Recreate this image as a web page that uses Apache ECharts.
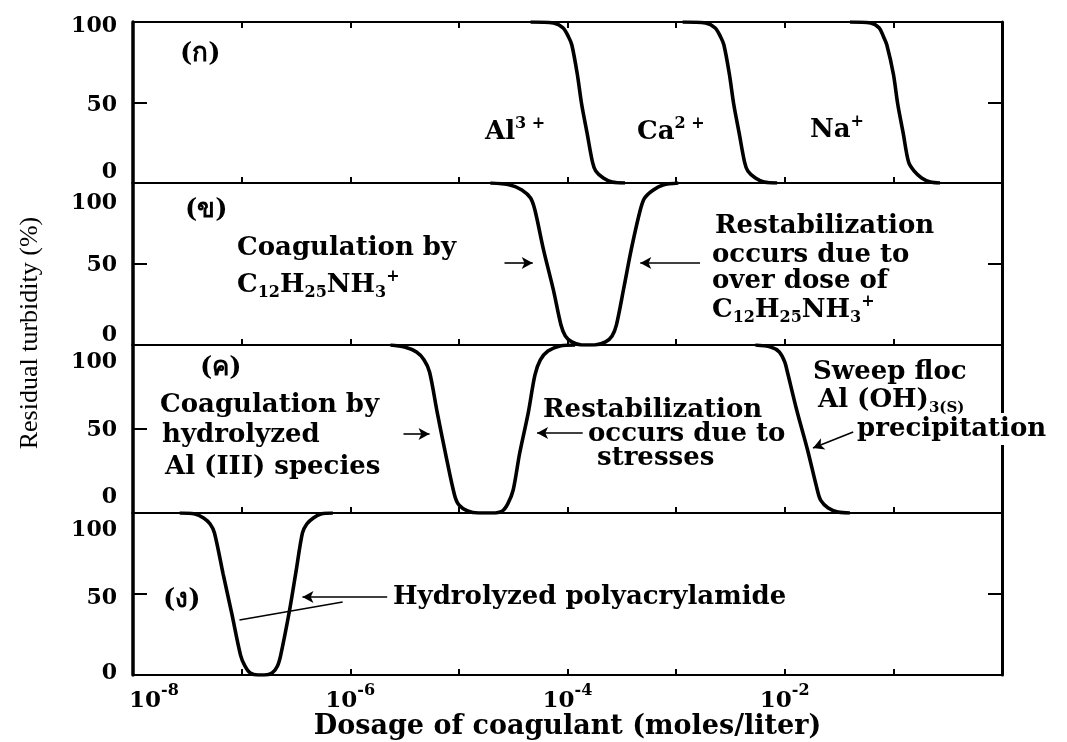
<!DOCTYPE html>
<html>
<head>
<meta charset="utf-8">
<script src="https://cdn.jsdelivr.net/npm/echarts@6/dist/echarts.min.js"></script>
<style>
  html, body { margin: 0; padding: 0; background: #fff; }
  #chart { width: 1067px; height: 742px; }
</style>
</head>
<body>
<div id="chart"></div>
<script>
// x = log10 of dosage (moles/liter), y = residual turbidity (%)
// (ก) simple counter-ions
var alLog  = [-4.34, -4.13, -4.04, -3.99, -3.96, -3.91, -3.87, -3.82, -3.77, -3.74, -3.67, -3.59, -3.47];
var alTurb = [100, 99.4, 96.3, 90.7, 85.7, 67.7, 49.1, 31.1, 13.0, 7.5, 3.1, 0.6, 0];
var caLog  = [-2.94, -2.73, -2.64, -2.59, -2.56, -2.51, -2.47, -2.42, -2.37, -2.34, -2.27, -2.19, -2.07];
var caTurb = [100, 99.4, 96.3, 90.7, 85.7, 67.7, 49.1, 31.1, 13.0, 7.5, 3.1, 0.6, 0];
var naLog  = [-1.40, -1.21, -1.13, -1.09, -1.06, -1.00, -0.96, -0.91, -0.86, -0.81, -0.74, -0.66, -0.57];
var naTurb = [100, 99.4, 96.3, 90.7, 85.7, 67.7, 49.1, 31.1, 13.0, 7.5, 3.1, 0.6, 0];
// (ข) C12H25NH3+
var amineLog  = [-4.71, -4.53, -4.42, -4.34, -4.30, -4.22, -4.13, -4.06, -4.02, -3.96, -3.87,
                 -3.75, -3.65, -3.59, -3.55, -3.48, -3.41, -3.33, -3.29, -3.21, -3.12, -2.98];
var amineTurb = [100, 98.8, 95.7, 90.7, 83.3, 58.6, 34.0, 12.3, 5.6, 1.9, 0,
                 0, 1.9, 5.6, 12.3, 35.8, 59.9, 83.3, 90.7, 95.7, 98.8, 100];
// (ค) Al(III): hydrolyzed species, then sweep floc
var alHydLog  = [-5.63, -5.50, -5.39, -5.32, -5.27, -5.20, -5.12, -5.04, -5.00, -4.92, -4.82,
                 -4.69, -4.60, -4.55, -4.50, -4.44, -4.36, -4.30, -4.25, -4.18, -4.07, -3.93];
var alHydTurb = [100, 98.8, 95.8, 91.1, 83.9, 60.1, 34.5, 10.7, 4.8, 1.2, 0,
                 0, 1.2, 5.4, 13.7, 35.7, 60.1, 82.1, 91.1, 96.4, 99.4, 100];
var sweepLog  = [-2.27, -2.13, -2.05, -2.00, -1.98, -1.89, -1.79, -1.70, -1.67, -1.60, -1.51, -1.40];
var sweepTurb = [100, 98.8, 95.8, 89.9, 85.1, 61.3, 37.5, 13.7, 7.7, 3.0, 0.6, 0];
// (ง) hydrolyzed polyacrylamide
var pamLog  = [-7.57, -7.43, -7.35, -7.29, -7.25, -7.17, -7.09, -7.01, -6.97, -6.92, -6.85,
               -6.79, -6.72, -6.67, -6.64, -6.56, -6.50, -6.44, -6.40, -6.34, -6.27, -6.16];
var pamTurb = [100, 99.4, 96.9, 93.2, 87.7, 62.3, 37.7, 12.3, 5.6, 1.2, 0,
               0, 1.2, 5.6, 12.3, 39.5, 63.6, 87.7, 93.2, 96.9, 99.4, 100];

var xLabelExps = [-8, -6, -4, -2];
var yTicks = [0, 50, 100];

var SERIF = '"DejaVu Serif", serif';
var chart = echarts.init(document.getElementById('chart'));

var grids = [
  { left: 133, right: 65, top: 22, height: 161, outerBoundsMode: 'none' },
  { left: 133, right: 65, top: 183, height: 162, outerBoundsMode: 'none' },
  { left: 133, right: 65, top: 345, height: 168, outerBoundsMode: 'none' },
  { left: 133, right: 65, top: 513, height: 162, outerBoundsMode: 'none' }
];
// nudges of the 100 / 50 / 0 labels in each panel, px (+ = down)
var labelShift = [[4, 3, -11], [20, 1, -10], [17, 1, -16], [17, 4, -2]];

function pairs(xs, ys) {
  return xs.map(function (x, i) { return [x, ys[i]]; });
}
function pad(d) {
  return d >= 0 ? [2 * d, 0, 0, 0] : [0, 0, -2 * d, 0];
}
var tickFont = { fontFamily: SERIF, fontWeight: 'bold', fontSize: 22, color: '#000' };
var frame = { color: '#000', width: 2 };

var xAxes = [], yAxes = [];
grids.forEach(function (g, i) {
  var last = i === grids.length - 1;
  xAxes.push({
    type: 'value', gridIndex: i, position: 'bottom', min: -8, max: 0, interval: 1,
    axisLine: { onZero: false, lineStyle: frame },
    axisTick: { inside: true, length: 6, lineStyle: frame },
    splitLine: { show: false },
    axisLabel: {
      show: last, margin: 8, showMinLabel: true, showMaxLabel: true,
      formatter: function (v) {
        if (xLabelExps.indexOf(v) < 0) return '';
        return (v === -8 ? '{f|10}' : '{b|10}') + '{s|' + v + '}';
      },
      rich: {
        b: Object.assign({ lineHeight: 30, verticalAlign: 'bottom' }, tickFont, { fontSize: 23 }),
        f: Object.assign({ lineHeight: 30, verticalAlign: 'bottom', padding: [0, 0, 0, 42] }, tickFont, { fontSize: 23 }),
        s: Object.assign({}, tickFont, { fontSize: 16, lineHeight: 16, verticalAlign: 'top' })
      }
    },
    name: last ? 'Dosage of coagulant (moles/liter)' : '',
    nameLocation: 'middle', nameGap: 34,
    nameTextStyle: { fontFamily: SERIF, fontWeight: 'bold', fontSize: 27, color: '#000' }
  });
  var sh = labelShift[i];
  yAxes.push({
    type: 'value', gridIndex: i, position: 'left', min: 0, max: 100, interval: 50,
    axisLine: { show: true, onZero: false, lineStyle: { color: '#000', width: 3.5 } },
    axisTick: { show: true, inside: true, length: 14, lineStyle: frame },
    splitLine: { show: false },
    axisLabel: {
      margin: 16, showMinLabel: true, showMaxLabel: true,
      formatter: function (v) {
        if (yTicks.indexOf(v) < 0) return '';
        return v === 100 ? '{t|100}' : (v === 50 ? '{m|50}' : '{z|0}');
      },
      rich: {
        t: Object.assign({ padding: pad(sh[0]) }, tickFont),
        m: Object.assign({ padding: pad(sh[1]) }, tickFont),
        z: Object.assign({ padding: pad(sh[2]) }, tickFont)
      }
    }
  });
  yAxes.push({
    type: 'value', gridIndex: i, position: 'right', min: 0, max: 100, interval: 50,
    axisLine: { show: true, onZero: false, lineStyle: { color: '#000', width: 3 } },
    axisTick: { show: true, inside: true, length: 14, lineStyle: frame },
    axisLabel: { show: false },
    splitLine: { show: false }
  });
});
// top frame of the first panel
xAxes.push({
  type: 'value', gridIndex: 0, position: 'top', min: -8, max: 0, interval: 1,
  axisLine: { onZero: false, lineStyle: frame },
  axisTick: { inside: true, length: 6, lineStyle: frame },
  axisLabel: { show: false }, splitLine: { show: false }
});

var arrowStyle = {
  symbol: ['none', 'arrow'], symbolSize: [9, 11], silent: true, animation: false,
  label: { show: false },
  lineStyle: { color: '#000', width: 1.6, type: 'solid' }
};
function arrows(list) {
  return Object.assign({}, arrowStyle, { data: list });
}

function curve(panel, xs, ys, extra) {
  return Object.assign({
    type: 'line', xAxisIndex: panel, yAxisIndex: panel * 2,
    data: pairs(xs, ys), smooth: 0.3, showSymbol: false, symbol: 'none',
    lineStyle: { color: '#000', width: 3.6 }, z: 5, animation: false
  }, extra || {});
}

var chemRich = {
  sup: { fontFamily: SERIF, fontWeight: 'bold', fontSize: 16, lineHeight: 16, verticalAlign: 'top', fill: '#000' },
  sub: { fontFamily: SERIF, fontWeight: 'bold', fontSize: 16, lineHeight: 16, verticalAlign: 'bottom', fill: '#000' },
  sm:  { fontFamily: SERIF, fontWeight: 'bold', fontSize: 15, lineHeight: 15, verticalAlign: 'bottom', fill: '#000' }
};
function note(x, y, text, extra) {
  return {
    type: 'text', x: x, y: y, z: 100, silent: true,
    style: Object.assign({
      text: text, fill: '#000', fontFamily: SERIF, fontWeight: 'bold', fontSize: 26,
      lineHeight: 32, verticalAlign: 'middle', rich: chemRich
    }, extra || {})
  };
}

chart.setOption({
  animation: false,
  backgroundColor: '#fff',
  grid: grids,
  xAxis: xAxes,
  yAxis: yAxes,
  series: [
    curve(0, alLog, alTurb),
    curve(0, caLog, caTurb),
    curve(0, naLog, naTurb),
    curve(1, amineLog, amineTurb, {
      markLine: arrows([
        [{ coord: [-4.58, 50.6] }, { coord: [-4.32, 50.6] }],
        [{ coord: [-2.78, 50.6] }, { coord: [-3.33, 50.6] }]
      ])
    }),
    curve(2, alHydLog, alHydTurb, {
      markLine: arrows([
        [{ coord: [-5.51, 47.0] }, { coord: [-5.27, 47.0] }],
        [{ coord: [-3.86, 47.6] }, { coord: [-4.28, 47.6] }]
      ])
    }),
    curve(2, sweepLog, sweepTurb, {
      markLine: arrows([
        [{ coord: [-1.37, 48.2] }, { coord: [-1.74, 38.7] }]
      ])
    }),
    curve(3, pamLog, pamTurb, {
      markLine: arrows([
        [{ coord: [-5.66, 48.1] }, { coord: [-6.44, 48.1] }],
        [{ coord: [-6.07, 45.1], symbol: 'none' }, { coord: [-7.02, 34.0], symbol: 'none' }]
      ])
    })
  ],
  graphic: [
    {
      type: 'text', x: 30, y: 333, rotation: Math.PI / 2, silent: true,
      style: {
        text: 'Residual turbidity (%)', fill: '#000', fontFamily: '"Liberation Serif", serif',
        fontSize: 26, align: 'center', verticalAlign: 'middle'
      }
    },
    // (ก)
    note(180, 54, '(ก)'),
    note(485, 132, 'Al{sup|3 +}'),
    note(637, 132, 'Ca{sup|2 +}'),
    note(810, 130, 'Na{sup|+}'),
    // (ข)
    note(185, 210, '(ข)'),
    note(237, 248, 'Coagulation by'),
    note(237, 285, 'C{sub|12}H{sub|25}NH{sub|3}{sup|+}'),
    note(715, 226, 'Restabilization'),
    note(712, 255, 'occurs due to'),
    note(712, 281, 'over dose of'),
    note(712, 310, 'C{sub|12}H{sub|25}NH{sub|3}{sup|+}'),
    // (ค)
    note(200, 368, '(ค)'),
    note(160, 405, 'Coagulation by'),
    note(162, 435, 'hydrolyzed'),
    note(165, 467, 'Al (III) species'),
    note(543, 410, 'Restabilization'),
    note(588, 434, 'occurs due to'),
    note(597, 458, 'stresses'),
    note(813, 372, 'Sweep floc'),
    note(857, 429, 'precipitation', { backgroundColor: '#fff' }),
    note(818, 400, 'Al (OH){sm|3(S)}', { backgroundColor: '#fff' }),
    // (ง)
    note(163, 600, '(ง)'),
    note(393, 597, 'Hydrolyzed polyacrylamide')
  ]
});
</script>
</body>
</html>
